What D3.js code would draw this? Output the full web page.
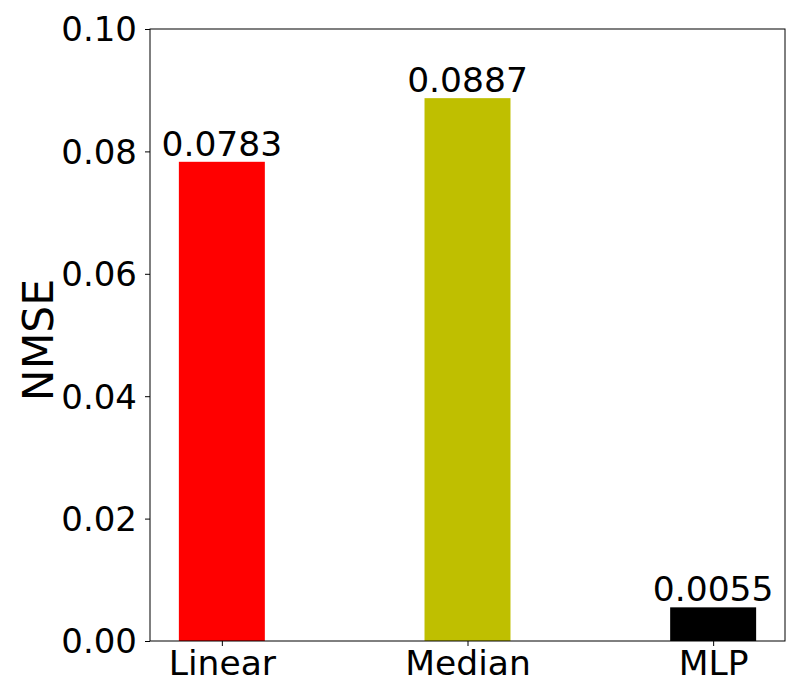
<!DOCTYPE html>
<html><head><meta charset="utf-8">
<script src="https://cdn.jsdelivr.net/npm/d3@7"></script>
<style>body{margin:0;background:#fff;} text{font-family:"DejaVu Sans",sans-serif;}</style>
</head><body>
<svg id="c" width="800" height="700"></svg>
<script>
const categories = ["Linear", "Median", "MLP"];
const values = [0.0783, 0.0887, 0.0055];
const barColors = ["#ff0000", "#bfbf00", "#000000"];
const yTicks = [0, 0.02, 0.04, 0.06, 0.08, 0.10];
const yLabel = "NMSE";

const svg = d3.select("#c");
const L = 150, R = 785, T = 29, B = 641;
const idx = categories.map((d, i) => i);
const x = d3.scaleLinear().domain([-0.2925, 2.2925]).range([L, R]);
const y = d3.scaleLinear().domain([0, 0.1]).range([B, T]);
const bw = 0.35;

svg.append("g").selectAll("rect").data(values).join("rect")
  .attr("x", (d, i) => x(i - bw / 2))
  .attr("width", (d, i) => x(i + bw / 2) - x(i - bw / 2))
  .attr("y", d => y(d))
  .attr("height", d => y(0) - y(d))
  .attr("fill", (d, i) => barColors[i]);

svg.append("g").selectAll("text").data(values).join("text")
  .attr("x", (d, i) => x(i))
  .attr("y", d => y(d) - 6)
  .attr("text-anchor", "middle")
  .attr("font-size", "34.5px")
  .text(d => d.toFixed(4));

const yAxis = d3.axisLeft(y).tickValues(yTicks).tickFormat(d3.format(".2f")).tickSize(5).tickPadding(8);
const gy = svg.append("g").attr("transform", `translate(${L},0)`).call(yAxis);
gy.select(".domain").remove();
gy.selectAll("text").attr("font-size", "34px").attr("fill", "#000").attr("dy", "0.35em").style("font-family", "DejaVu Sans");
gy.selectAll("line").attr("stroke", "#000");

const xAxis = d3.axisBottom(x).tickValues(idx).tickFormat(i => categories[i]).tickSize(5).tickPadding(5);
const gx = svg.append("g").attr("transform", `translate(0,${B})`).call(xAxis);
gx.select(".domain").remove();
gx.selectAll("text").attr("font-size", "34.5px").attr("fill", "#000").style("font-family", "DejaVu Sans");
gx.selectAll("line").attr("stroke", "#000");

svg.append("rect").attr("x", L).attr("y", T).attr("width", R - L).attr("height", B - T)
  .attr("fill", "none").attr("stroke", "#000").attr("stroke-width", 1);

svg.append("text").attr("transform", `translate(53,${(T + B) / 2 + 5}) rotate(-90)`)
  .attr("text-anchor", "middle").attr("font-size", "42.5px").text(yLabel);
</script>
</body></html>
